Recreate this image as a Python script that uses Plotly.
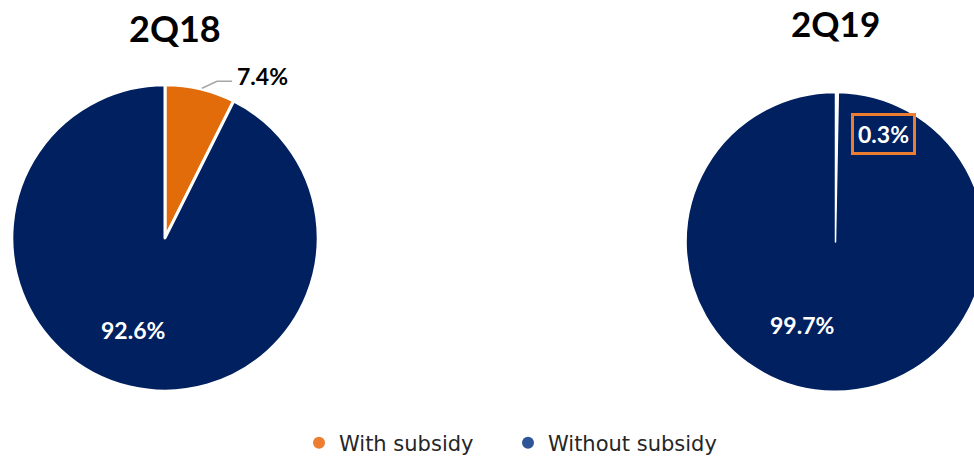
import plotly.graph_objects as go

# ---- data ----
categories = ["With subsidy", "Without subsidy"]
periods = ["2Q18", "2Q19"]
values_2q18 = [7.4, 92.6]
values_2q19 = [0.3, 99.7]

# ---- style ----
PIE_ORANGE = "#E36C0A"
NAVY = "#002060"
LEG_ORANGE = "#ED7D31"
LEG_BLUE = "#2F5597"
FONT = "Lato"
LEG_FONT = "DejaVu Sans"

W, H = 1000, 464


def fx(x):
    return x / W


def fy(y):
    return 1 - y / H


fig = go.Figure()

fig.add_trace(go.Pie(
    labels=categories, values=values_2q18, sort=False, direction="clockwise", rotation=0,
    marker=dict(colors=[PIE_ORANGE, NAVY], line=dict(color="white", width=3)),
    textinfo="none", showlegend=False, name=periods[0],
    domain=dict(x=[fx(10.5), fx(319.5)], y=[fy(394.5), fy(85.5)]),
))
fig.add_trace(go.Pie(
    labels=categories, values=values_2q19, sort=False, direction="clockwise", rotation=0,
    marker=dict(colors=["white", NAVY], line=dict(color="white", width=1.5)),
    textinfo="none", showlegend=False, name=periods[1],
    domain=dict(x=[fx(684.75), fx(986.25)], y=[fy(394.75), fy(93.25)]),
))

# legend entries (circle markers)
for name, col in zip(categories, [LEG_ORANGE, LEG_BLUE]):
    fig.add_trace(go.Scatter(
        x=[None], y=[None], mode="markers", name=name,
        marker=dict(symbol="circle", size=16, color=col),
    ))


def label(x, y, text, size, color, **kw):
    d = dict(x=fx(x), y=fy(y), xref="paper", yref="paper", text=text, showarrow=False,
             font=dict(size=size, color=color, family=FONT), xanchor="center", yanchor="middle")
    d.update(kw)
    return d


ann = [
    label(175, 28, f"<b>{periods[0]}</b>", 36, "black"),
    label(835, 23, f"<b>{periods[1]}</b>", 35, "black"),
    label(262, 77, f"<b>{values_2q18[0]:.1f}%</b>", 23, "black"),
    label(133, 333, f"<b>{values_2q18[1]:.1f}%</b>", 23, "white"),
    label(883, 135, f"<b>{values_2q19[0]:.1f}%</b>", 23, "white",
          bordercolor=LEG_ORANGE, borderwidth=3, borderpad=4),
    label(802, 328, f"<b>{values_2q19[1]:.1f}%</b>", 23, "white"),
]

shapes = [dict(
    type="path", xref="paper", yref="paper",
    path=f"M {fx(202)} {fy(89)} L {fx(217)} {fy(82)} L {fx(232)} {fy(82)}",
    line=dict(color="#A6A6A6", width=1.5),
)]

fig.update_layout(
    width=W, height=H, autosize=False,
    margin=dict(l=0, r=0, t=0, b=0),
    paper_bgcolor="white", plot_bgcolor="white",
    xaxis=dict(visible=False), yaxis=dict(visible=False),
    annotations=ann, shapes=shapes,
    legend=dict(orientation="h", x=fx(508), y=fy(447), xanchor="center", yanchor="middle",
                font=dict(size=21, color="#262626", family=LEG_FONT), itemsizing="constant",
                traceorder="normal", entrywidth=164, entrywidthmode="pixels"),
    font=dict(family=FONT),
)

fig.write_html(
    "out.html",
    config={"displayModeBar": False},
    post_script="document.body.style.margin='0px';document.body.style.overflow='hidden';",
)
